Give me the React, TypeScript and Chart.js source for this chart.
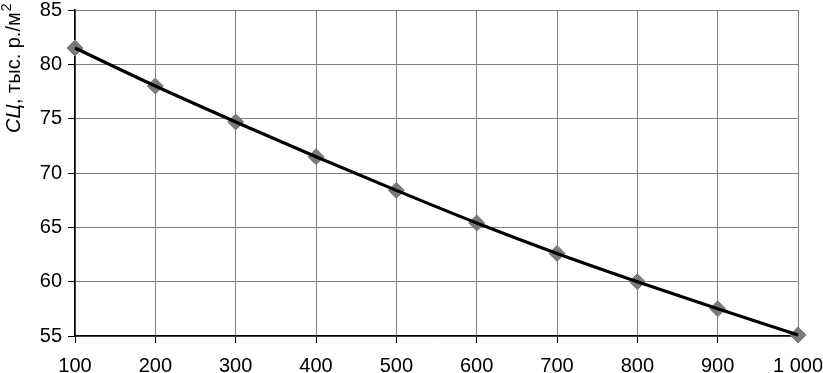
import React, { useEffect, useRef } from "react";
import { Chart, registerables } from "chart.js";
Chart.register(...registerables);

const xValues = [100, 200, 300, 400, 500, 600, 700, 800, 900, 1000];
const yValues = [81.5, 78.0, 74.7, 71.5, 68.4, 65.4, 62.6, 60.0, 57.5, 55.1];
const titleItalic = "СЦ";
const titleRest = ", тыс. р./м";
const titleSup = "2";

const FONT = "'Liberation Sans', Arial, sans-serif";

const titlePlugin = {
  id: "yTitle",
  afterDraw(chart: any) {
    const ctx = chart.ctx;
    ctx.save();
    ctx.translate(20, 133);
    ctx.rotate(-Math.PI / 2);
    ctx.fillStyle = "#000";
    ctx.textBaseline = "alphabetic";
    ctx.textAlign = "left";
    ctx.font = `italic 20px ${FONT}`;
    ctx.fillText(titleItalic, 0, 0);
    let x = ctx.measureText(titleItalic).width;
    ctx.font = `20px ${FONT}`;
    ctx.fillText(titleRest, x, 0);
    x += ctx.measureText(titleRest).width;
    ctx.font = `14px ${FONT}`;
    ctx.fillText(titleSup, x + 1, -9);
    ctx.restore();
  },
};

export default function App() {
  const ref = useRef<HTMLCanvasElement>(null);
  useEffect(() => {
    const pts = xValues.map((x, i) => ({ x, y: yValues[i] }));
    const chart = new Chart(ref.current!, {
      type: "line",
      data: {
        datasets: [
          {
            data: pts,
            borderColor: "#000",
            borderWidth: 3.2,
            pointRadius: 0,
            cubicInterpolationMode: "monotone",
            clip: false,
            order: 0,
          },
          {
            data: pts,
            showLine: false,
            pointStyle: "rectRot",
            pointRadius: 8,
            backgroundColor: "#7a7a7a",
            borderColor: "#7a7a7a",
            clip: false,
            order: 1,
          },
        ],
      },
      options: {
        responsive: false,
        animation: false,
        layout: { padding: { top: 10, right: 25, left: 0, bottom: 0 } },
        plugins: { legend: { display: false }, tooltip: { enabled: false } },
        scales: {
          x: {
            type: "linear",
            min: 100,
            max: 1000,
            afterFit: (s: any) => { s.height = 37; s.paddingLeft = 0; s.paddingRight = 0; },
            ticks: {
              stepSize: 100,
              color: "#000",
              font: { family: FONT, size: 20 },
              padding: 11,
              maxRotation: 0,
              callback: (v: any) => (v >= 1000 ? String(v).replace(/(\d)(\d{3})$/, "$1 $2") : String(v)),
            },
            grid: { color: "#7f7f7f", lineWidth: 1, tickLength: 7, tickColor: "#000" },
            border: { color: "#000", width: 1.5 },
          },
          y: {
            min: 55,
            max: 85,
            afterFit: (s: any) => { s.width = 75; s.paddingTop = 0; s.paddingBottom = 0; },
            ticks: {
              stepSize: 5,
              color: "#000",
              font: { family: FONT, size: 20 },
              padding: 6,
            },
            grid: { color: "#7f7f7f", lineWidth: 1, tickLength: 7, tickColor: "#000" },
            border: { color: "#000", width: 1.5 },
          },
        },
      },
      plugins: [titlePlugin],
    } as any);
    return () => chart.destroy();
  }, []);
  return (
    <div style={{ position: "absolute", left: 0, top: 0, width: 823, height: 373, background: "#fff" }}>
      <canvas ref={ref} width={823} height={373} style={{ display: "block" }} />
    </div>
  );
}
